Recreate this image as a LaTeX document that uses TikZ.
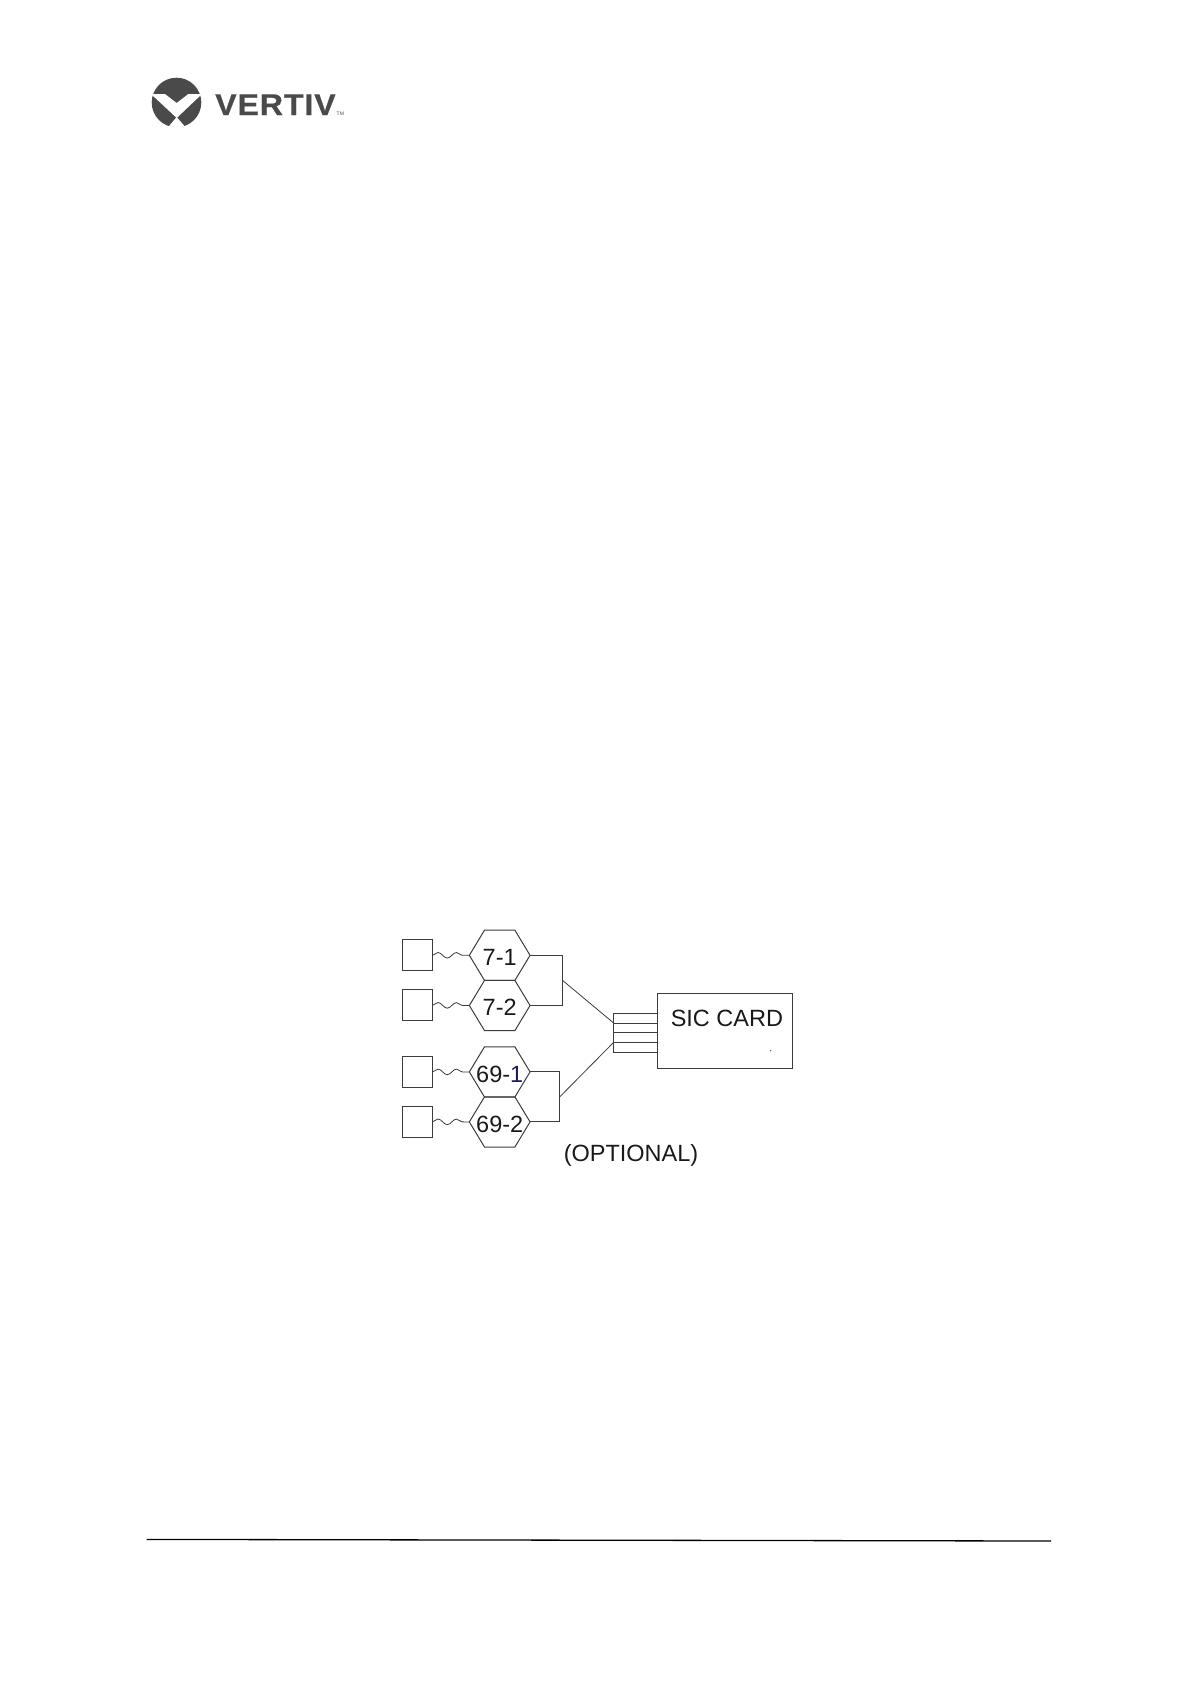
\documentclass[tikz,border=0pt]{standalone}
\usepackage{fontspec}
\setmainfont{Liberation Sans}
\usetikzlibrary{calc,decorations.pathmorphing}
\definecolor{linegrey}{HTML}{3C3C3C}
\definecolor{logogrey}{HTML}{4A4A4A}
\definecolor{navyink}{HTML}{1C1C5C}
\tikzset{
  wire/.style={draw=linegrey,line width=1pt},
  squarebox/.style={wire,minimum width=30pt,minimum height=31pt,inner sep=0pt,outer sep=0pt},
  hexbox/.style={minimum width=60.7pt,minimum height=50.3pt,inner sep=0pt,outer sep=0pt,font=\fontsize{23.5}{25}\selectfont,text=black!90},
  wavy/.style={wire,line width=0.8pt,decorate,decoration={snake,segment length=18.4pt,amplitude=2.8pt}},
  cardbox/.style={wire,minimum width=135pt,minimum height=75pt,inner sep=0pt,outer sep=0pt},
  labeltext/.style={inner sep=0pt,font=\fontsize{23.5}{25}\selectfont,text=black!90},
  logotext/.style={inner sep=0pt,text=logogrey,font=\fontsize{30}{32}\selectfont\bfseries},
}
\newcommand{\hexlabel}[2]{\raisebox{-#1pt}[\height][0pt]{#2}}
\newcommand{\hexshape}[1]{%
  \draw[wire] (#1.west)
    -- ($(#1.north west)!.25!(#1.north east)$)
    -- ($(#1.north west)!.75!(#1.north east)$)
    -- (#1.east)
    -- ($(#1.south west)!.75!(#1.south east)$)
    -- ($(#1.south west)!.25!(#1.south east)$)
    -- cycle;}
\begin{document}
\begin{tikzpicture}[x=1pt,y=-1pt]
\useasboundingbox (0,0) rectangle (1191,1684);
% logo
\fill[logogrey] (176.5,102.5) circle (24.8);
\fill[white] (151,94) -- (165,94) -- (176.7,103) -- (188.3,94) -- (202,94) -- (176.7,118) -- cycle;
\fill[white] (176.7,117) -- (166.5,129) -- (187,129) -- cycle;
\node[logotext,anchor=base west] (brand) at (215,115) {\addfontfeature{LetterSpace=3,FakeStretch=1.07,FakeBold=0.6}VERTIV};
\node[inner sep=0pt,anchor=base west,text=logogrey,font=\fontsize{5}{6}\selectfont] (tm) at (336.5,115) {TM};
% sensors
\node[squarebox] (s1) at (417.3,955.3) {};
\node[squarebox] (s2) at (417.3,1005.3) {};
\node[squarebox] (s3) at (417.3,1071.9) {};
\node[squarebox] (s4) at (417.3,1121.8) {};
% hexagons
\node[hexbox] (h1) at (499.7,955.3) {\hexlabel{2}{7-1}};
\node[hexbox] (h2) at (499.7,1005.5) {\hexlabel{1.5}{7-2}};
\node[hexbox] (h3) at (499.7,1071.9) {\hexlabel{2.5}{69-\textcolor{navyink}{1}}};
\node[hexbox] (h4) at (499.7,1121.9) {\hexlabel{2}{69-2}};
\hexshape{h1}\hexshape{h2}\hexshape{h3}\hexshape{h4}
\foreach \a/\b in {s1/h1,s2/h2,s3/h3,s4/h4}
  \draw[wavy] (\a.east) -- (\b.west);
% brackets
\coordinate (j1) at (562.7,980.5);
\coordinate (j2) at (559.7,1096.9);
\draw[wire] (h1.east) -| (j1) |- (h2.east);
\draw[wire] (h3.east) -| (j2) |- (h4.east);
% card
\node[cardbox] (card) at (725.2,1030.8) {};
\node[labeltext] (cardlabel) at (726.9,1018.3) {SIC CARD};
\fill[linegrey] (770.7,1050.7) circle (0.6);
% pins
\foreach \n/\y in {1/1013.7,2/1023.3,3/1032.7,4/1042.3,5/1052}{
  \coordinate (pa\n) at (613.3,\y);
  \coordinate (pb\n) at (card.west |- pa\n);
  \draw[wire] (pa\n) -- (pb\n);
}
\draw[wire] (pa1) -- (pa5);
\coordinate (m1) at (613.3,1022.7);
\coordinate (m2) at (613.3,1042.7);
\draw[wire,line width=0.8pt] (j1) -- (m1);
\draw[wire,line width=0.8pt] (j2) -- (m2);
\node[labeltext] (opt) at (631,1155.5) {(OPTIONAL)};
% rule
\coordinate (r1) at (146.7,1539.4);
\coordinate (r2) at (1051,1541);
\draw[black,line width=1.3pt] (r1) -- (r2);
\end{tikzpicture}
\end{document}
